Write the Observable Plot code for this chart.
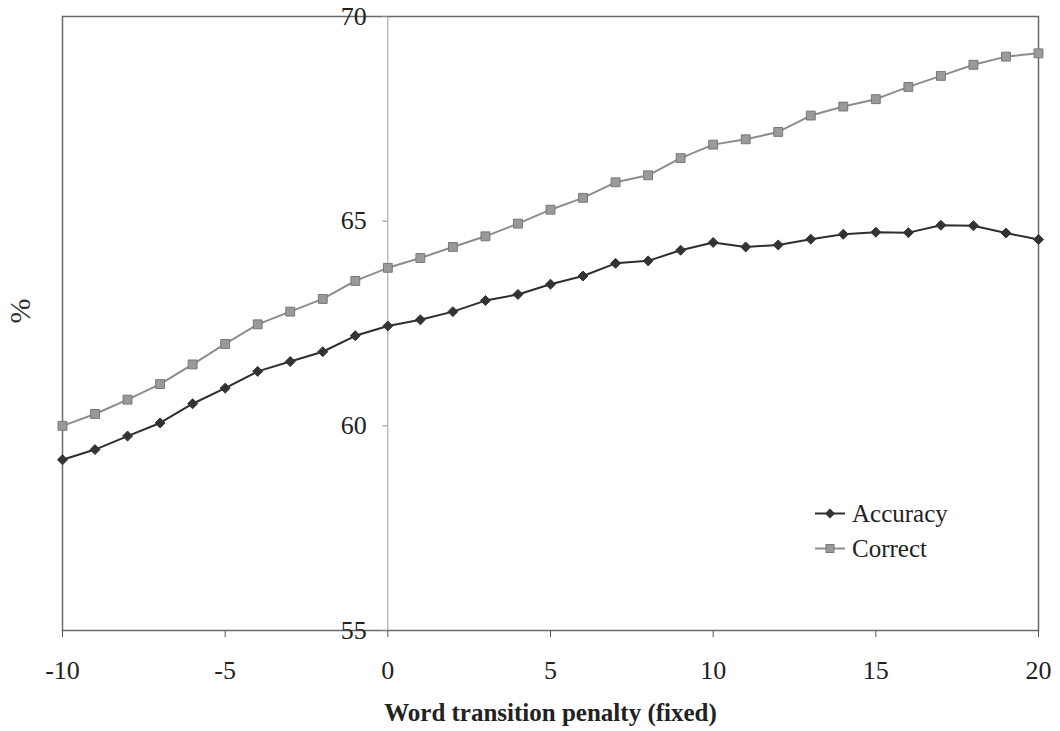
<!DOCTYPE html>
<html>
<head>
<meta charset="utf-8">
<script src="https://cdn.jsdelivr.net/npm/d3@7"></script>
<script src="https://cdn.jsdelivr.net/npm/@observablehq/plot@0.6"></script>
<style>
  html, body { margin: 0; padding: 0; background: #fff; }
  #chart { position: relative; width: 1060px; height: 731px; }
  .legend {
    position: absolute; left: 815px; top: 496px;
    font-family: "Liberation Serif", "Times New Roman", serif;
    font-size: 25px; color: #222;
  }
  .legend .row { display: flex; align-items: center; height: 35px; }
  .legend svg { margin-right: 6px; }
</style>
</head>
<body>
<div id="chart"></div>
<script>
// Word transition penalty settings (x) and the two recognition scores (%)
const penalty = [-10, -9, -8, -7, -6, -5, -4, -3, -2, -1, 0, 1, 2, 3, 4, 5, 6, 7, 8, 9, 10,
                 11, 12, 13, 14, 15, 16, 17, 18, 19, 20];
const accuracy = [59.17, 59.42, 59.75, 60.07, 60.54, 60.92, 61.33, 61.57, 61.81, 62.20, 62.44,
                  62.59, 62.79, 63.06, 63.21, 63.46, 63.66, 63.97, 64.03, 64.29, 64.48,
                  64.37, 64.42, 64.56, 64.68, 64.73, 64.72, 64.90, 64.89, 64.71, 64.55];
const correct = [60.00, 60.29, 60.64, 61.02, 61.50, 62.00, 62.48, 62.79, 63.10, 63.54, 63.86,
                 64.10, 64.37, 64.63, 64.94, 65.28, 65.57, 65.95, 66.12, 66.54, 66.87,
                 67.00, 67.18, 67.58, 67.80, 67.98, 68.28, 68.55, 68.82, 69.02, 69.10];
const xTicks = [-10, -5, 0, 5, 10, 15, 20];
const yTicks = [55, 60, 65, 70];
const seriesNames = ["Accuracy", "Correct"];
const xLabel = "Word transition penalty (fixed)";
const yLabel = "%";

const colors = {Accuracy: "#2e2e2e", Correct: "#8c8c8c"};
const markFill = {Accuracy: "#333333", Correct: "#9a9a9a"};
const symbols = {Accuracy: "diamond2", Correct: "square"};

const rows = [];
penalty.forEach((p, i) => {
  rows.push({series: "Accuracy", x: p, y: accuracy[i]});
  rows.push({series: "Correct", x: p, y: correct[i]});
});

const marks = [
  Plot.ruleX([0], {stroke: "#9a9a9a", strokeWidth: 1}),
  Plot.frame({stroke: "#6a6a6a", strokeWidth: 1.5}),
  Plot.axisX({ticks: xTicks, tickFormat: d => String(d), tickSize: 7, tickPadding: 23,
              fontSize: 26, stroke: "#555", label: null}),
  Plot.axisY({x: 0, ticks: yTicks, tickFormat: d => String(d), tickSize: 5, tickPadding: 16,
              fontSize: 26, stroke: "#888", label: null}),
  Plot.text([yLabel], {frameAnchor: "left", dx: -42, rotate: -90, fontSize: 30, fill: "#333"}),
  Plot.text([xLabel], {frameAnchor: "bottom", dy: 90, fontSize: 25, fontWeight: "bold", fill: "#222"})
];
// draw Correct first so Accuracy sits on top
for (const s of ["Correct", "Accuracy"]) {
  const data = rows.filter(d => d.series === s);
  marks.push(Plot.line(data, {x: "x", y: "y", stroke: colors[s], strokeWidth: 2}));
  marks.push(Plot.dot(data, {x: "x", y: "y", symbol: () => symbols[s],
    r: s === "Correct" ? 5 : 4.5, fill: markFill[s],
    stroke: s === "Correct" ? "#777" : "#333", strokeWidth: 1}));
}

const chart = Plot.plot({
  width: 1060,
  height: 731,
  marginLeft: 62,
  marginRight: 22,
  marginTop: 16,
  marginBottom: 101,
  x: {domain: [-10, 20]},
  y: {domain: [55, 70]},
  symbol: {type: "identity"},
  style: {fontFamily: "'Liberation Serif', 'Times New Roman', serif", fontSize: "26px",
          color: "#222", background: "transparent"},
  marks
});
document.getElementById("chart").appendChild(chart);

// legend
const legend = document.createElement("div");
legend.className = "legend";
for (const s of seriesNames) {
  const row = document.createElement("div");
  row.className = "row";
  const sym = s === "Accuracy"
    ? `<path d="M15,12.5 L20,17.5 L15,22.5 L10,17.5 Z" fill="${markFill[s]}"/>`
    : `<rect x="11" y="13.5" width="8" height="8" fill="${markFill[s]}" stroke="#777"/>`;
  row.innerHTML = `<svg width="31" height="35"><line x1="0" x2="30" y1="17.5" y2="17.5" stroke="${colors[s]}" stroke-width="2"/>${sym}</svg><span>${s}</span>`;
  legend.appendChild(row);
}
document.getElementById("chart").appendChild(legend);
</script>
</body>
</html>
